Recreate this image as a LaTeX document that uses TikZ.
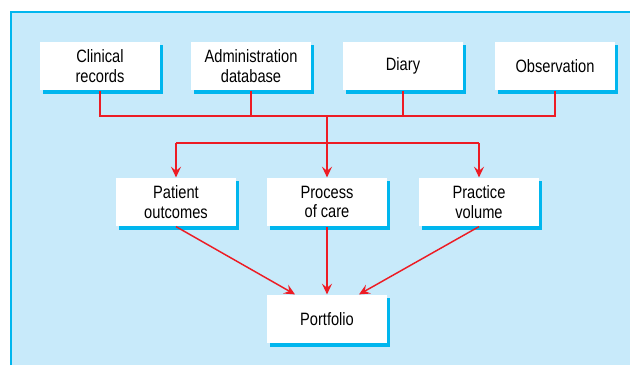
\documentclass[tikz,border=0pt]{standalone}
\usepackage{fontspec}
\setmainfont{Liberation Sans}[FakeStretch=0.82]
\usetikzlibrary{arrows.meta}
\usetikzlibrary{shadows}

\definecolor{panel}{RGB}{200,234,250}
\definecolor{edge}{RGB}{0,182,238}
\definecolor{wire}{RGB}{237,28,36}

\tikzset{
  box/.style={fill=white, minimum width=90pt, minimum height=36.5pt, align=center,
    font=\fontsize{13.4}{14.8}\selectfont, inner sep=2pt,
    drop shadow={shadow xshift=2.4pt, shadow yshift=-2.4pt, fill=edge, opacity=1}},
  link/.style={wire, line width=1.1pt},
  arrow/.style={link, -{Stealth[length=8pt, width=7.5pt, inset=3pt]}}
}

\begin{document}
\begin{tikzpicture}[x=0.75pt, y=-0.75pt]
    \useasboundingbox (0,0) rectangle (630,365);
    \fill[panel] (11,12) rectangle (630,365);
    \draw[edge, line width=1pt] (11,365) -- (11,12) -- (630,12);

    % sources
    \node[box] (clinical) at (100,66) {Clinical\\records};
    \node[box] (admin) at (251,66) {Administration\\database};
    \node[box] (diary) at (403,66) {Diary};
    \node[box] (obs) at (555,66) {Observation};

    % measures
    \node[box] (outcomes) at (176,202) {Patient\\outcomes};
    \node[box] (process) at (327,202) {Process\\of care};
    \node[box] (volume) at (479,202) {Practice\\volume};

    \node[box] (portfolio) at (327,319) {Portfolio};

    \coordinate (top) at (327,116);
    \coordinate (split) at (327,143);

    \draw[link] (clinical.south) -- (clinical.south |- top) -- (obs.south |- top) -- (obs.south);
    \draw[link] (admin.south) -- (admin.south |- top);
    \draw[link] (diary.south) -- (diary.south |- top);
    \draw[link] (top) -- (split);
    \draw[link] (outcomes.north |- split) -- (volume.north |- split);

    \draw[arrow] (outcomes.north |- split) -- (outcomes.north);
    \draw[arrow] (split) -- (process.north);
    \draw[arrow] (volume.north |- split) -- (volume.north);

    \draw[arrow] (outcomes.south) -- ([xshift=-24pt]portfolio.north);
    \draw[arrow] (process.south) -- (portfolio.north);
    \draw[arrow] (volume.south) -- ([xshift=24pt]portfolio.north);
\end{tikzpicture}
\end{document}
